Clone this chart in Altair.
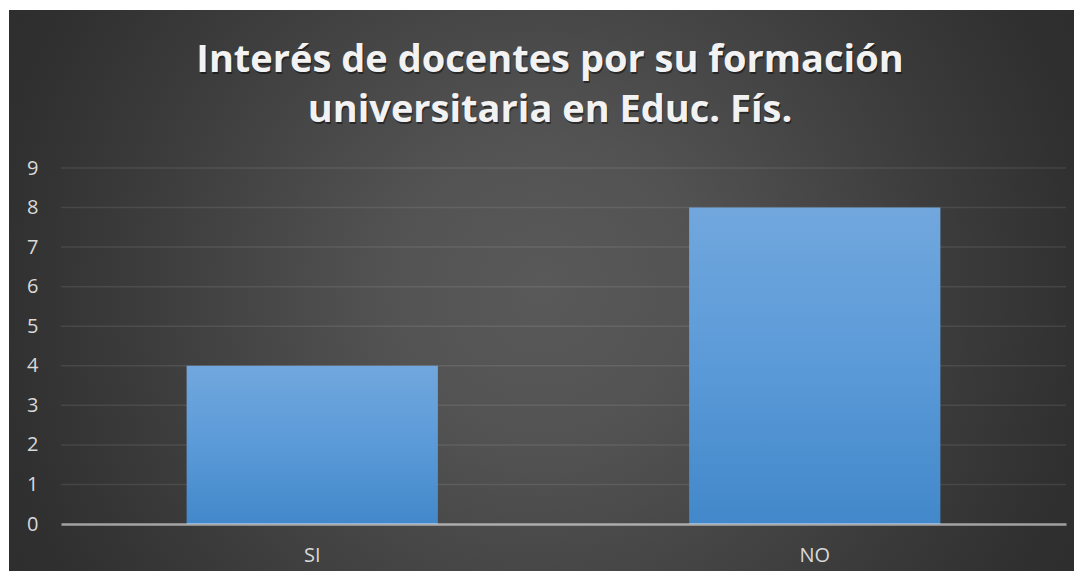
import altair as alt
import pandas as pd

categories = ["SI", "NO"]
values = [4, 8]
y_ticks = [0, 1, 2, 3, 4, 5, 6, 7, 8, 9]
grid_values = [1, 2, 3, 4, 5, 6, 7, 8, 9]
title_lines = ["Interés de docentes por su formación", "universitaria en Educ. Fís."]

W, H = 1005, 356
PAD = {"left": 53, "top": 160, "right": 8, "bottom": 47}

bars_df = pd.DataFrame({"cat": categories, "val": values})
grid_df = pd.DataFrame({"v": grid_values})

bg_gradient = alt.RadialGradient(
    gradient="radial", x1=0.5, y1=0.5, r1=0, x2=0.5, y2=0.5, r2=0.71,
    stops=[
        alt.GradientStop(offset=0, color="#595959"),
        alt.GradientStop(offset=0.2, color="#535353"),
        alt.GradientStop(offset=0.53, color="#3c3c3c"),
        alt.GradientStop(offset=0.72, color="#303030"),
        alt.GradientStop(offset=1, color="#282828"),
    ],
)

bar_gradient = alt.LinearGradient(
    gradient="linear", x1=0, y1=0, x2=0, y2=1,
    stops=[
        alt.GradientStop(offset=0, color="#71a7dd"),
        alt.GradientStop(offset=0.5, color="#5b9ad8"),
        alt.GradientStop(offset=1, color="#4288ca"),
    ],
)

one = alt.Data(values=[{"a": 1}])

background = alt.Chart(one).mark_rect(fill=bg_gradient, clip=False).encode(
    x=alt.value(-PAD["left"] + 1),
    x2=alt.value(W + PAD["right"]),
    y=alt.value(-PAD["top"] + 2),
    y2=alt.value(H + PAD["bottom"]),
)

title_common = dict(
    text=title_lines, font="Open Sans", fontSize=38, fontWeight="bold",
    align="center", baseline="alphabetic", lineHeight=50,
)
title_shadow = alt.Chart(one).mark_text(
    color="#000000", opacity=0.45, dx=1, dy=2, **title_common
).encode(x=alt.value(489), y=alt.value(-96))
title_text = alt.Chart(one).mark_text(color="#f2f2f2", **title_common).encode(
    x=alt.value(489), y=alt.value(-96)
)

y_scale = alt.Scale(domain=[0, 9], nice=False)
y_axis = alt.Axis(
    title=None, values=y_ticks, ticks=False, domain=False, grid=False,
    labelColor="#d9d9d9", labelFont="Open Sans", labelFontSize=20,
    labelPadding=23, zindex=1,
)

grid = alt.Chart(grid_df).mark_rule(
    color="#ffffff", opacity=0.09, strokeWidth=1.5
).encode(
    y=alt.Y("v:Q", scale=y_scale, axis=y_axis, title=None),
    x=alt.value(0),
    x2=alt.value(W),
)

bars = alt.Chart(bars_df).mark_bar(color=bar_gradient).encode(
    x=alt.X(
        "cat:N",
        sort=categories,
        scale=alt.Scale(paddingInner=0.5, paddingOuter=0.25),
        axis=alt.Axis(
            title=None, labelAngle=0, ticks=False, domain=True,
            domainColor="#ffffff", domainOpacity=0.55, domainWidth=2.5,
            labelColor="#d9d9d9", labelFont="Open Sans", labelFontSize=20,
            labelPadding=21, grid=False, zindex=1,
        ),
    ),
    y=alt.Y("val:Q", scale=y_scale, axis=y_axis, title=None),
)

chart = alt.layer(background, grid, bars, title_shadow, title_text).properties(
    width=W,
    height=H,
    padding=PAD,
    autosize=alt.AutoSizeParams(type="none"),
    background="white",
).configure_view(stroke=None)

chart.save("out.html", embed_options={"renderer": "svg", "actions": False})
